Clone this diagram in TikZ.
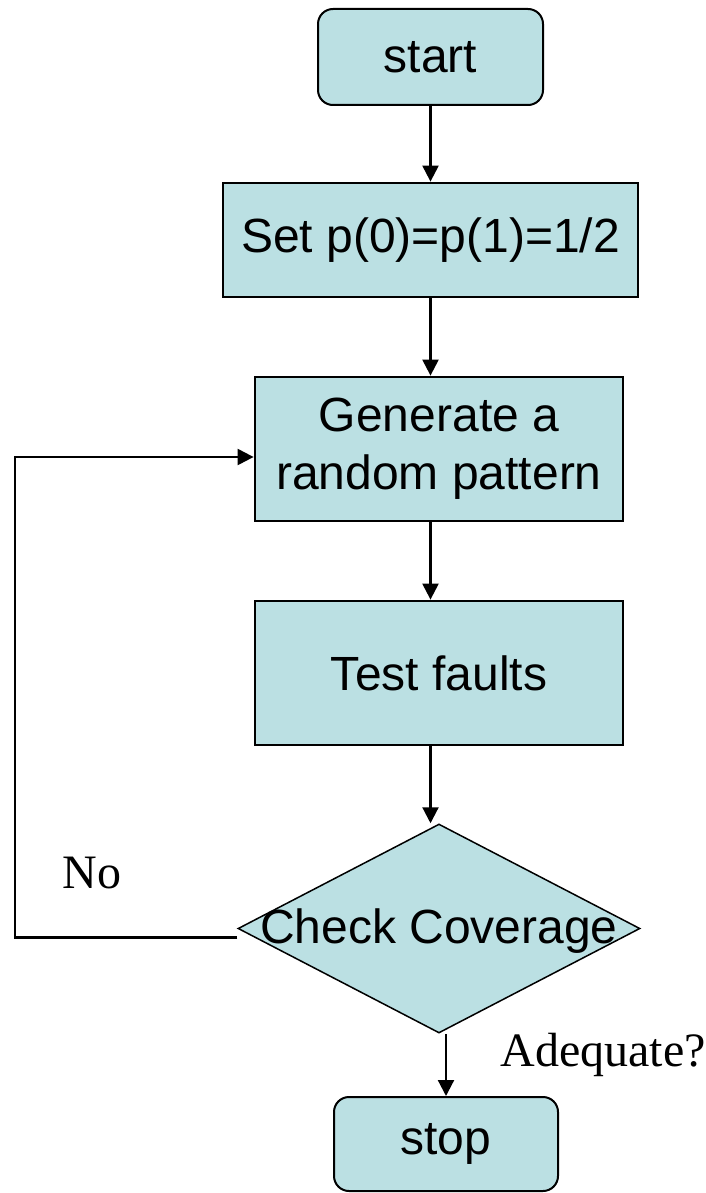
\documentclass[tikz,border=0pt]{standalone}
\usepackage{fontspec}
\setmainfont{Liberation Sans}
\newfontfamily\serifn{Liberation Serif}
\usetikzlibrary{shapes.geometric,arrows.meta}
\definecolor{boxfill}{RGB}{187,224,227}
\tikzset{
  x=1pt, y=-1pt,
  every node/.style={font=\fontsize{48}{58}\selectfont},
  termbox/.style={draw, fill=boxfill, rounded corners=15pt, line width=2pt, inner sep=0pt},
  procbox/.style={draw, fill=boxfill, line width=2.8pt, inner sep=0pt, align=center},
  decbox/.style={draw, fill=boxfill, diamond, line width=1.5pt, inner sep=0pt},
  flow/.style={line width=2.2pt, -{Triangle[length=16pt,width=16pt]}},
  lbl/.style={font=\serifn\fontsize{48}{58}\selectfont}
}
\begin{document}
\begin{tikzpicture}
\useasboundingbox (0,0) rectangle (706,1193);
\node[termbox, minimum width=225pt, minimum height=96pt] (start) at (430.5,57) {start};
\node[procbox, minimum width=415pt, minimum height=114pt] (set) at (430.5,240) {Set p(0)=p(1)=1/2};
\node[procbox, minimum width=368pt, minimum height=144pt] (gen) at (439,449) {Generate a\\random pattern};
\node[procbox, minimum width=368pt, minimum height=144pt] (test) at (439,673) {Test faults};
\node[decbox, minimum width=402pt, minimum height=209pt, label={[name=chktext, yshift=-3pt, font=\fontsize{48}{58}\selectfont]center:Check Coverage}] (chk) at (439,928.5) {};
\node[termbox, minimum width=224pt, minimum height=94pt] (stop) at (446,1144) {stop};
\node[lbl, anchor=base] (no) at (92,888) {No};
\node[lbl, anchor=base west] (adeq) at (497,1066) {Adequate?};
\coordinate (le) at ([yshift=-9pt]chk.west);
\coordinate (cb) at (15,457);
\coordinate (ca) at (le -| cb);
\draw[flow] (start.south) -- (start.south |- set.north);
\draw[flow] (set.south) -- (set.south |- gen.north);
\draw[flow] (gen.south -| set.south) -- (test.north -| set.south);
\draw[flow] (test.south -| set.south) -- (set.south |- chk.north);
\draw[flow] (chk.south -| stop.north) -- (stop.north);
\draw[flow] (le) -- (ca) -- (cb) -- (cb -| gen.west);
\end{tikzpicture}
\end{document}
